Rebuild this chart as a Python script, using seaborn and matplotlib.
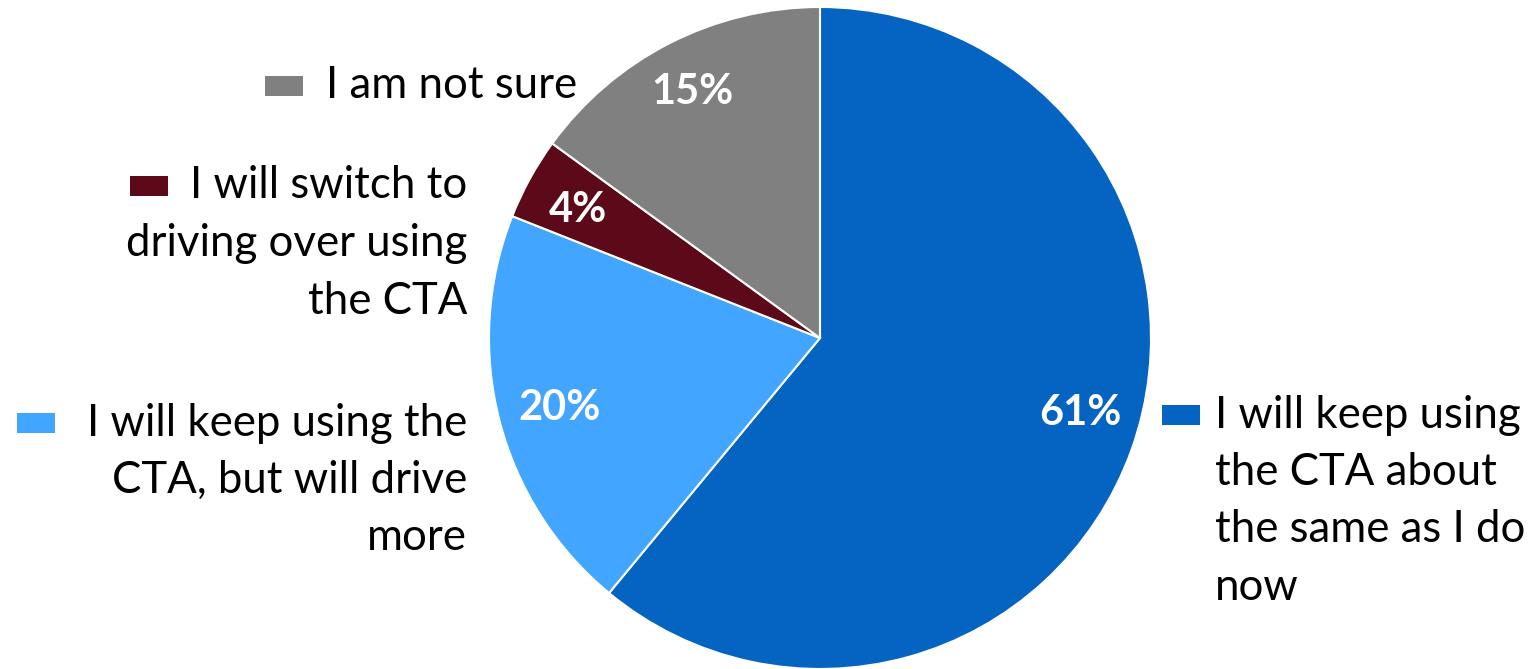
import matplotlib
matplotlib.use("Agg")
import matplotlib.pyplot as plt
import seaborn as sns
from matplotlib.patches import Rectangle

categories = [
    "I will keep using\nthe CTA about\nthe same as I do\nnow",
    "I will keep using the\nCTA, but will drive\nmore",
    "I will switch to\ndriving over using\nthe CTA",
    "I am not sure",
]
values = [61, 20, 4, 15]
pct_labels = ["61%", "20%", "4%", "15%"]
colors = ["#0563C1", "#42A5FF", "#5C0A1A", "#808080"]

sns.set_theme(style="white")
plt.rcParams["font.family"] = ["Lato", "DejaVu Sans"]

W, H = 1534, 669
fig = plt.figure(figsize=(W / 100, H / 100), dpi=100)
ax = fig.add_axes([0, 0, 1, 1])
ax.set_xlim(0, W)
ax.set_ylim(0, H)
ax.set_aspect("equal")
ax.axis("off")

cx, cy, r = 820, H - 338, 331
wedges, _ = ax.pie(values, colors=sns.color_palette(colors), startangle=90,
                   counterclock=False, center=(cx, cy), radius=r,
                   wedgeprops=dict(edgecolor="white", linewidth=1.5))
ax.set_xlim(0, W)
ax.set_ylim(0, H)

# percentage labels (pixel positions of label centers)
pct_pos = [(1080, 413), (560, 408), (578, 210), (692, 92)]
for (px, py), t in zip(pct_pos, pct_labels):
    ax.text(px, H - py, t, color="white", fontsize=30, fontweight="bold",
            ha="center", va="center")

# category labels with colour keys
# (text anchor x, first line center y, alignment, marker left x)
lab_layout = [
    (1215, 415, "left", 1162),
    (467, 423, "right", 17),
    (467, 186, "right", 130),
    (577, 86, "right", 265),
]
line_gap = 57.5
for (tx, ty, ha, mx), lab, col in zip(lab_layout, categories, colors):
    for i, line in enumerate(lab.split("\n")):
        ax.text(tx, H - (ty + i * line_gap), line, fontsize=31.5, color="black",
                ha=ha, va="center")
    ax.add_patch(Rectangle((mx, H - ty - 10), 38, 20, color=col, lw=0))

fig.savefig("out.png", dpi=100)
